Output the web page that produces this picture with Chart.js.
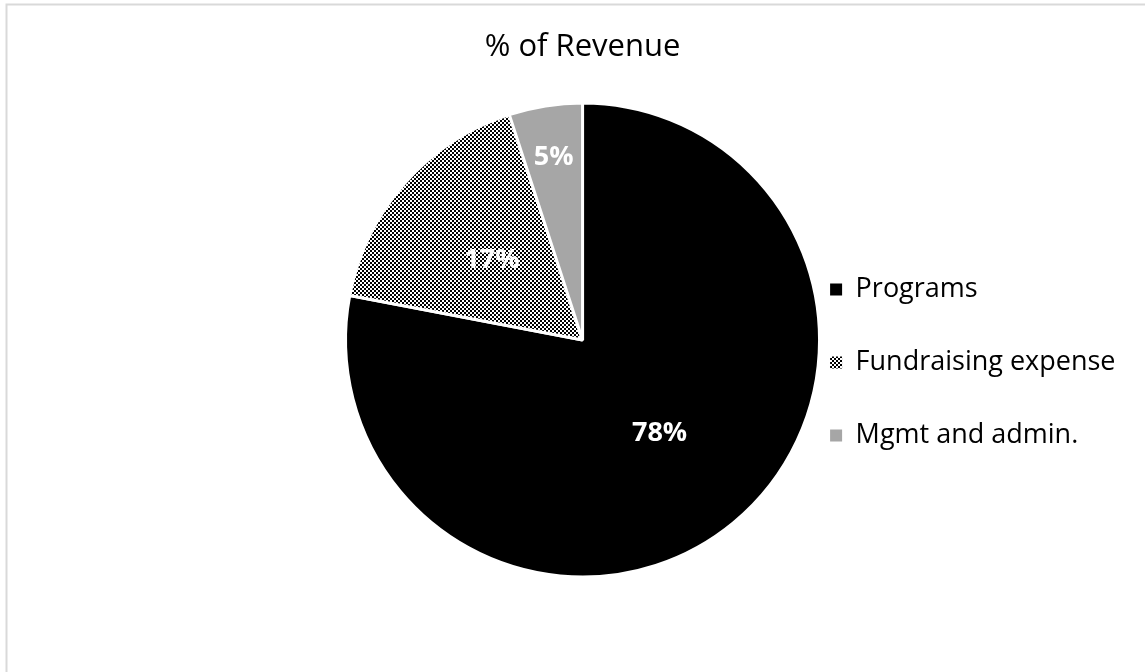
<!DOCTYPE html>
<html>
<head>
<meta charset="utf-8">
<script src="https://cdn.jsdelivr.net/npm/chart.js@4.4.1/dist/chart.umd.min.js"></script>
<style>
  html, body { margin: 0; padding: 0; background: #fff; }
  #wrap { width: 1145px; height: 672px; position: relative; }
</style>
</head>
<body>
<div id="wrap"><canvas id="myChart"></canvas></div>
<script>
// данные диаграммы
var categories = ["Programs", "Fundraising expense", "Mgmt and admin."];
var shares = [78, 17, 5];
var chartTitle = "% of Revenue";

// шахматная заливка для второго сектора
function checkerPattern() {
  var c = document.createElement("canvas");
  c.width = 4;
  c.height = 4;
  var p = c.getContext("2d");
  p.fillStyle = "#ffffff";
  p.fillRect(0, 0, 4, 4);
  p.fillStyle = "#000000";
  p.fillRect(0, 0, 2, 2);
  p.fillRect(2, 2, 2, 2);
  return p.createPattern(c, "repeat");
}

var ctx = document.getElementById("myChart").getContext("2d");
var fills = ["#000000", checkerPattern(), "#a6a6a6"];

// фон и рамка
var frame = {
  id: "frame",
  beforeDraw: function (chart) {
    var c = chart.ctx;
    c.save();
    c.fillStyle = "#ffffff";
    c.fillRect(0, 0, chart.width, chart.height);
    c.strokeStyle = "#d9d9d9";
    c.lineWidth = 2;
    c.strokeRect(6.5, 4.5, 1200, 700);
    c.restore();
  }
};

// подписи процентов внутри секторов
var sliceLabels = {
  id: "sliceLabels",
  afterDatasetsDraw: function (chart) {
    var c = chart.ctx;
    var meta = chart.getDatasetMeta(0);
    c.save();
    c.fillStyle = "#ffffff";
    c.font = "bold 27px 'Open Sans'";
    c.textAlign = "center";
    c.textBaseline = "middle";
    meta.data.forEach(function (arc, i) {
      var p = arc.getProps(["x", "y", "startAngle", "endAngle", "outerRadius"], true);
      var mid = (p.startAngle + p.endAngle) / 2;
      var k = shares[i] < 10 ? 0.78 : 0.51;
      var r = p.outerRadius * k;
      c.fillText(shares[i] + "%", p.x + Math.cos(mid) * r, p.y + Math.sin(mid) * r);
    });
    c.restore();
  }
};

var baseLabels = Chart.overrides.pie.plugins.legend.labels.generateLabels;

var myChart = new Chart(ctx, {
  type: "pie",
  data: {
    labels: categories,
    datasets: [
      {
        data: shares,
        backgroundColor: fills,
        borderColor: "#ffffff",
        borderWidth: 3,
        radius: 237,
        clip: false
      }
    ]
  },
  options: {
    responsive: true,
    maintainAspectRatio: false,
    devicePixelRatio: 1,
    animation: false,
    layout: { padding: { left: 381, right: 19.5, top: 0, bottom: 172 } },
    plugins: {
      title: {
        display: true,
        fullSize: false,
        text: chartTitle,
        color: "#000000",
        font: { family: "'Open Sans'", size: 31, weight: "normal" },
        padding: { top: 29, bottom: 113.8 }
      },
      legend: {
        position: "right",
        align: "start",
        fullSize: false,
        // пустой заголовок только сдвигает подписи вниз
        title: { display: true, text: "", font: { size: 12 }, padding: { top: 35.6, bottom: 0 } },
        labels: {
          color: "#000000",
          font: { family: "'Open Sans'", size: 27 },
          boxWidth: 12,
          boxHeight: 12,
          padding: 46,
          generateLabels: function (chart) {
            return baseLabels(chart).map(function (l) {
              l.lineWidth = 0;
              l.strokeStyle = "rgba(0,0,0,0)";
              return l;
            });
          }
        }
      },
      tooltip: { enabled: false }
    }
  },
  plugins: [frame, sliceLabels]
});
</script>
</body>
</html>
